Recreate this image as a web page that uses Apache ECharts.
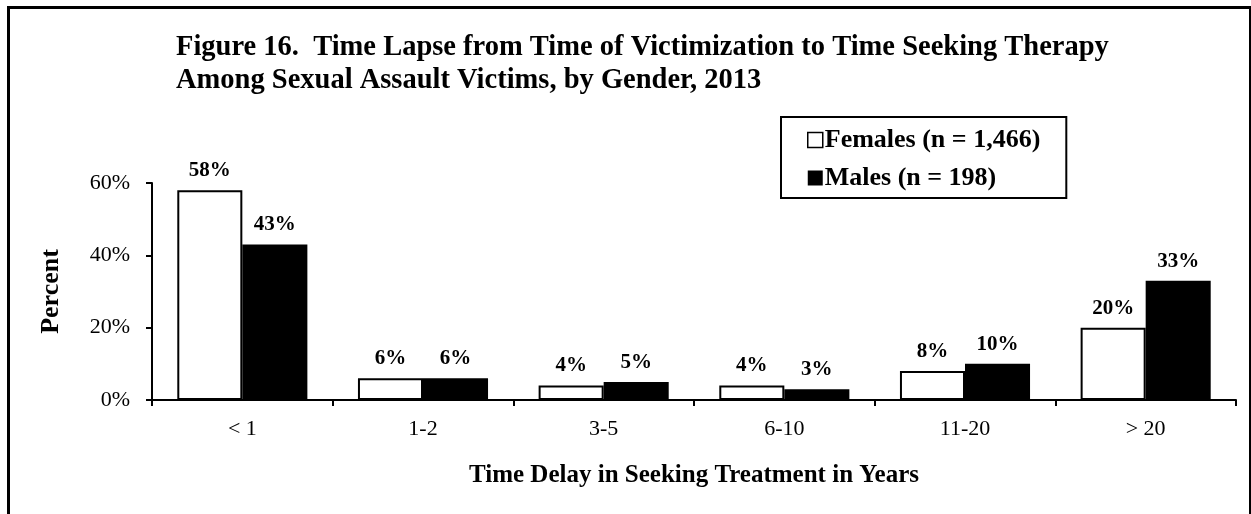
<!DOCTYPE html>
<html>
<head>
<meta charset="utf-8">
<script src="https://cdn.jsdelivr.net/npm/echarts@6/dist/echarts.min.js"></script>
<style>
html,body{margin:0;padding:0;background:#fff;}
#chart{width:1251px;height:514px;}
</style>
</head>
<body>
<div id="chart"></div>
<script>
const titleLines = ['Figure 16.  Time Lapse from Time of Victimization to Time Seeking Therapy', 'Among Sexual Assault Victims, by Gender, 2013'];
const categories = ['< 1', '1-2', '3-5', '6-10', '11-20', '> 20'];
const females = [58, 6, 4, 4, 8, 20];
const males = [43, 6, 5, 3, 10, 33];
const seriesNames = ['Females (n = 1,466)', 'Males (n = 198)'];
const yTicks = [0, 20, 40, 60];
const xAxisName = 'Time Delay in Seeking Treatment in Years';
const yAxisName = 'Percent';

const FONT = '"Liberation Serif", "Times New Roman", serif';
const chart = echarts.init(document.getElementById('chart'));

const labelStyle = {
  show: true, position: 'top', distance: 9,
  formatter: p => p.value + '%',
  fontFamily: FONT, fontSize: 21, fontWeight: 'bold', color: '#000'
};

chart.setOption({
  animation: false,
  backgroundColor: '#fff',
  title: {
    text: titleLines.join('\n'),
    left: 171, top: 26,
    textStyle: { fontFamily: FONT, fontSize: 28.5, fontWeight: 'bold', color: '#000', lineHeight: 33 }
  },
  legend: {
    orient: 'vertical',
    left: 781, top: 117,
    padding: [10, 26, 7, 26],
    itemGap: 12,
    itemWidth: 15, itemHeight: 15,
    borderColor: '#000', borderWidth: 2,
    icon: 'rect',
    textStyle: { fontFamily: FONT, fontSize: 26, fontWeight: 'bold', color: '#000', padding: [0, 0, 0, -3] },
    data: [
      { name: seriesNames[0], itemStyle: { color: '#fff', borderColor: '#000', borderWidth: 1.5 } },
      { name: seriesNames[1], itemStyle: { color: '#000', borderColor: '#000', borderWidth: 0 } }
    ]
  },
  grid: { left: 152, right: 15, top: 183, bottom: 114, containLabel: false },
  xAxis: {
    type: 'category',
    data: categories,
    axisLine: { lineStyle: { color: '#000', width: 2 } },
    axisTick: { show: true, alignWithLabel: false, length: 6, inside: false, lineStyle: { color: '#000', width: 2 } },
    axisLabel: { fontFamily: FONT, fontSize: 22, color: '#000', margin: 18 },
    name: xAxisName,
    nameLocation: 'middle',
    nameGap: 63,
    nameTextStyle: { fontFamily: FONT, fontSize: 25, fontWeight: 'bold', color: '#000' }
  },
  yAxis: {
    type: 'value',
    min: yTicks[0], max: yTicks[yTicks.length - 1], interval: 20,
    splitLine: { show: false },
    axisLine: { show: true, lineStyle: { color: '#000', width: 2 } },
    axisTick: { show: true, length: 6, lineStyle: { color: '#000', width: 2 } },
    axisLabel: { fontFamily: FONT, fontSize: 22, color: '#000', margin: 22, formatter: '{value}%' },
    name: yAxisName,
    nameLocation: 'middle',
    nameGap: 88,
    nameRotate: 90,
    nameTextStyle: { fontFamily: FONT, fontSize: 26, fontWeight: 'bold', color: '#000' }
  },
  series: [
    {
      name: seriesNames[0], type: 'bar', data: females,
      barGap: '0%', barCategoryGap: '28%',
      itemStyle: { color: '#fff', borderColor: '#000', borderWidth: 2 },
      label: labelStyle
    },
    {
      name: seriesNames[1], type: 'bar', data: males,
      barGap: '0%', barCategoryGap: '28%',
      itemStyle: { color: '#000', borderColor: '#000', borderWidth: 2 },
      label: labelStyle
    }
  ],
  graphic: [
    { type: 'rect', left: 6, top: 5, silent: true, z: 100,
      shape: { x: 0, y: 0, width: 1242, height: 600 },
      style: { fill: 'none', stroke: '#000', lineWidth: 3 } }
  ]
});
</script>
</body>
</html>
